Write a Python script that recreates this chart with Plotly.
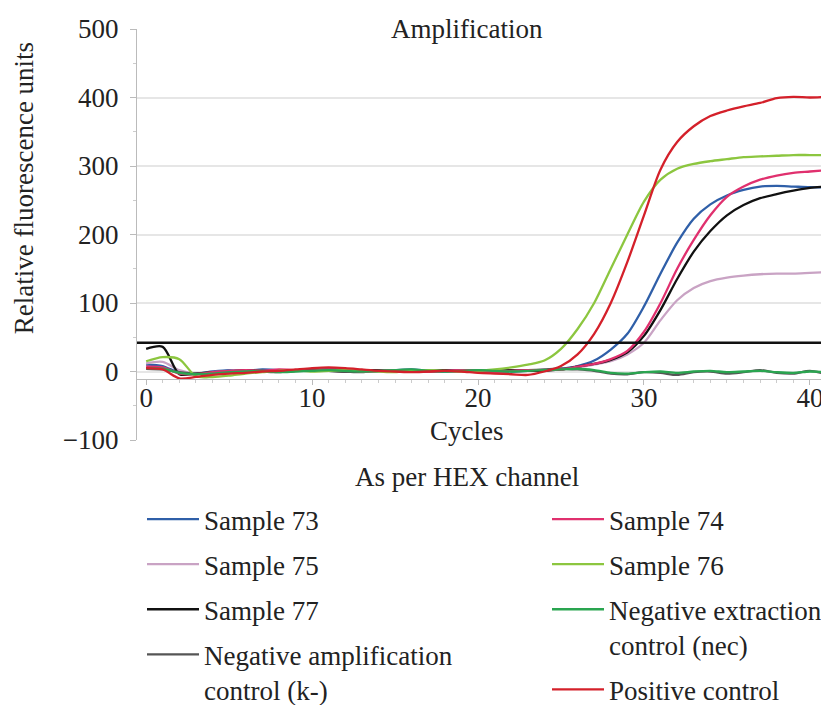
import plotly.graph_objects as go

cycles = list(range(0, 42))

sample_73 = [10, 8, -2, -3, 0, 2, 1, 3, 2, 1, 3, 4, 2, 1, 0, 2, 3, 1, 0, 1, 2, 1, 0, 1, 2, 4, 8, 16, 32, 55,
             95, 143, 188, 223, 244, 257, 265, 270, 271, 270, 269, 269]
sample_74 = [7, 6, -3, -4, -1, 1, 2, 1, 3, 2, 1, 3, 2, 0, 1, 2, 1, 0, 1, 2, 1, 0, 1, 2, 2, 3, 7, 11, 18, 30,
             58, 100, 150, 192, 228, 255, 270, 280, 286, 290, 292, 294]
sample_75 = [12, 14, 2, -3, -1, 1, 2, 1, 0, 2, 3, 2, 1, 0, 1, 2, 1, 0, 1, 1, 0, 1, 1, 2, 2, 3, 6, 10, 15, 25,
             42, 75, 104, 122, 132, 137, 140, 142, 143, 143, 144, 145]
sample_76 = [15, 21, 18, -7, -8, -6, -3, -1, 1, 2, 0, 1, 2, 1, 0, -1, 1, 2, 1, 0, 1, 3, 6, 10, 16, 33, 62, 100, 150, 200,
             248, 280, 296, 303, 307, 310, 313, 314, 315, 316, 316, 316]
sample_77 = [33, 36, -4, -3, -1, 0, 2, 1, 0, 1, 2, 1, 0, 1, 2, 1, 0, 1, 2, 1, 0, 1, 2, 1, 1, 3, 7, 11, 17, 28,
             52, 90, 135, 175, 205, 228, 243, 253, 259, 264, 268, 270]
neg_extraction = [5, 4, -2, -4, -3, -1, 0, 1, -1, 0, 1, 2, 1, 0, 1, 2, 3, 1, 0, 1, 2, 1, 0, 1, 2, 3, 4, 2, -2, -3,
                  -1, 0, -2, 0, 1, -1, 0, 1, -1, -2, 0, -1]
neg_amplification = [4, 3, -1, -3, -2, 0, 1, 0, -1, 1, 2, 1, 0, -1, 1, 2, 1, 0, 1, 2, 1, 0, 1, 2, 3, 4, 3, 1, -3, -4,
                     -1, -2, -5, -1, 0, -3, -1, 2, -2, -3, 1, -4]
positive_control = [5, 3, -10, -8, -5, -3, -2, 0, 1, 3, 5, 6, 5, 3, 1, 0, -1, 0, 1, 0, -2, -3, -4, -5, 0, 8, 25, 55, 100, 160,
                    228, 295, 335, 358, 373, 381, 387, 392, 399, 401, 400, 401]
threshold = 42

y_ticks = [-100, 0, 100, 200, 300, 400, 500]
x_ticks = [0, 10, 20, 30, 40]

series = [
    ("Sample 73", sample_73, "#2f5fa8", "legend"),
    ("Sample 75", sample_75, "#c9a3c4", "legend"),
    ("Sample 77", sample_77, "#111111", "legend"),
    ("Negative amplification<br>control (k-)", neg_amplification, "#555555", "legend"),
    ("Sample 74", sample_74, "#e0306e", "legend2"),
    ("Sample 76", sample_76, "#8cc63f", "legend2"),
    ("Negative extraction<br>control (nec)", neg_extraction, "#2aa550", "legend2"),
    ("Positive control", positive_control, "#d4202a", "legend2"),
]

fig = go.Figure()
for i, (name, vals, color, leg) in enumerate(series):
    fig.add_trace(go.Scatter(
        x=cycles, y=vals, name=name, mode="lines",
        line=dict(color=color, width=2.3, shape="spline", smoothing=0.8),
        legend=leg, legendgroup=name, legendrank=i + 1,
    ))

fig.add_hline(y=threshold, line=dict(color="#111111", width=2.5))

font_family = "Liberation Serif, Times New Roman, serif"
fs = 27
W, H = 821, 697

legend_common = dict(xref="container", yref="container", xanchor="left", yanchor="top",
                     font=dict(size=fs), tracegroupgap=7, bgcolor="rgba(0,0,0,0)",
                     itemwidth=52, valign="top")

fig.update_layout(
    width=W, height=H,
    margin=dict(l=129, r=0, t=21, b=265, autoexpand=False),
    paper_bgcolor="white", plot_bgcolor="white",
    font=dict(family=font_family, size=fs, color="#222222"),
    showlegend=True,
    legend=dict(x=134 / W, y=1 - 487 / H, **legend_common),
    legend2=dict(x=539 / W, y=1 - 487 / H, **legend_common),
    xaxis=dict(
        range=[-0.55, 41.15], tickvals=x_ticks, showgrid=False, zeroline=False,
        showline=True, linecolor="#bbbbbb", linewidth=1,
        anchor="free", position=0.148,
        ticks="outside", ticklen=5, tickcolor="#bbbbbb", ticklabelstandoff=-11,
        minor=dict(dtick=1, ticks="outside", ticklen=3, tickcolor="#cccccc", showgrid=False),
        tickfont=dict(size=fs),
    ),
    yaxis=dict(
        range=[-100, 500], tickvals=y_ticks, showgrid=True, gridcolor="#e6e6e6", gridwidth=1.5,
        zeroline=False, showline=True, linecolor="#bbbbbb", linewidth=1,
        ticks="outside", ticklen=6, tickcolor="#bbbbbb", ticklabelstandoff=6,
        minor=dict(dtick=50, ticks="outside", ticklen=3, tickcolor="#cccccc", showgrid=False),
        tickfont=dict(size=fs),
    ),
    annotations=[
        dict(text="Relative fluorescence units", x=-0.163, y=0.613, xref="paper", yref="paper",
             xanchor="center", yanchor="middle", textangle=-90, showarrow=False,
             font=dict(size=fs)),
        dict(text="Amplification", x=0.477, y=1.0, xref="paper", yref="paper",
             xanchor="center", yanchor="middle", showarrow=False,
             font=dict(size=fs), bgcolor="white", borderpad=2),
        dict(text="Cycles", x=0.477, y=0.022, xref="paper", yref="paper",
             xanchor="center", yanchor="middle", showarrow=False, font=dict(size=fs)),
        dict(text="As per HEX channel", x=0.477, y=-0.09, xref="paper", yref="paper",
             xanchor="center", yanchor="middle", showarrow=False, font=dict(size=fs)),
    ],
)

fig.write_html("out.html")
